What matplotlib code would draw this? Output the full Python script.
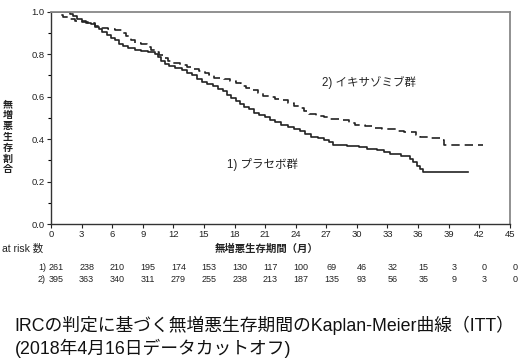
import matplotlib
matplotlib.use("Agg")
import matplotlib.pyplot as plt
from matplotlib.ticker import MultipleLocator

plt.rcParams['font.family'] = ['Liberation Sans', 'Noto Sans CJK JP', 'DejaVu Sans']

# placebo arm (solid)
t_placebo = [0, 1.9, 2.2, 2.6, 3.0, 3.4, 3.9, 4.3, 4.7, 5.0, 5.5, 5.9, 6.3, 6.7, 7.1,
             7.6, 8.2, 8.8, 9.5, 10.2, 10.5, 10.8, 11.2, 11.6, 12.2, 12.8, 13.3, 13.8,
             14.3, 14.8, 15.3, 15.9, 16.4, 16.9, 17.3, 17.7, 18.1, 18.5, 18.9, 19.4,
             19.9, 20.4, 21.0, 21.5, 22.0, 22.6, 23.2, 23.8, 24.4, 24.9, 25.5, 26.2,
             26.8, 27.3, 27.7, 29.0, 30.2, 31.0, 32.0, 32.7, 33.2, 34.3, 35.2, 35.5,
             35.9, 36.2, 36.5, 40.9]
s_placebo = [1.0, 0.99, 0.98, 0.965, 0.955, 0.945, 0.94, 0.93, 0.92, 0.905, 0.89,
             0.875, 0.865, 0.85, 0.84, 0.83, 0.82, 0.815, 0.81, 0.80, 0.785, 0.77,
             0.755, 0.745, 0.735, 0.725, 0.71, 0.70, 0.685, 0.67, 0.66, 0.65, 0.635,
             0.625, 0.61, 0.595, 0.58, 0.565, 0.55, 0.54, 0.525, 0.515, 0.505, 0.49,
             0.48, 0.468, 0.458, 0.448, 0.44, 0.425, 0.41, 0.405, 0.395, 0.385, 0.372,
             0.368, 0.362, 0.355, 0.348, 0.338, 0.33, 0.32, 0.305, 0.29, 0.275, 0.26,
             0.246, 0.246]

# ixazomib arm (dashed)
t_ixa = [0, 0.9, 1.2, 1.9, 2.4, 3.0, 3.6, 4.3, 5.0, 5.6, 6.3, 7.0, 7.4, 7.8, 8.2,
         8.8, 9.4, 9.8, 10.2, 10.6, 11.0, 11.5, 12.0, 12.7, 13.3, 13.9, 14.5, 15.1,
         15.5, 16.0, 17.0, 17.6, 18.1, 18.6, 19.1, 19.7, 20.3, 20.8, 21.4, 22.0,
         22.6, 23.2, 23.8, 24.3, 24.8, 25.3, 26.0, 26.8, 27.4, 28.5, 29.2, 29.8,
         30.8, 31.5, 32.5, 33.8, 34.6, 35.8, 36.2, 37.0, 38.3, 38.5, 42.4]
s_ixa = [1.0, 0.985, 0.975, 0.965, 0.958, 0.95, 0.945, 0.935, 0.925, 0.918, 0.912,
         0.898, 0.885, 0.868, 0.855, 0.848, 0.835, 0.82, 0.81, 0.795, 0.782, 0.77,
         0.758, 0.75, 0.74, 0.73, 0.72, 0.712, 0.70, 0.688, 0.684, 0.675, 0.665,
         0.652, 0.642, 0.63, 0.618, 0.605, 0.598, 0.59, 0.582, 0.57, 0.558, 0.545,
         0.53, 0.518, 0.51, 0.502, 0.495, 0.49, 0.478, 0.468, 0.462, 0.452, 0.448,
         0.438, 0.432, 0.42, 0.408, 0.405, 0.398, 0.372, 0.372]

risk_times = list(range(0, 46, 3))
risk_placebo = [261, 238, 210, 195, 174, 153, 130, 117, 100, 69, 46, 32, 15, 3, 0, 0]
risk_ixa = [395, 363, 340, 311, 279, 255, 238, 213, 187, 135, 93, 56, 35, 9, 3, 0]

fig = plt.figure(figsize=(5.24, 3.61), dpi=100)
ax = fig.add_axes([0.0973, 0.3795, 0.8757, 0.588])

ax.step(t_placebo, s_placebo, where="post", color="#222222", lw=1.2)
ax.step(t_ixa, s_ixa, where="post", color="#222222", lw=1.2, dashes=(5, 3))

ax.set_xlim(0, 45)
ax.set_ylim(0, 1.0)
ax.xaxis.set_major_locator(MultipleLocator(3))
ax.yaxis.set_major_locator(MultipleLocator(0.2))
ax.yaxis.set_minor_locator(MultipleLocator(0.1))
ax.set_yticklabels(["%.1f" % v for v in ax.get_yticks()])
ax.tick_params(labelsize=6.8, length=3, width=0.8, pad=1.5, colors="#222222")
ax.tick_params(which="minor", length=2, width=0.8)
for side in ["top", "right"]:
    ax.spines[side].set_color("#888888")
    ax.spines[side].set_linewidth(1.3)
for side in ["left", "bottom"]:
    ax.spines[side].set_color("#333333")
    ax.spines[side].set_linewidth(1.0)

ax.text(26.6, 0.668, "2) イキサゾミブ群", fontsize=8.3, color="#222222", va="center")
ax.text(17.25, 0.278, "1) プラセボ群", fontsize=8.3, color="#222222", va="center")

fig.text(8 / 524, 1 - 137 / 361, "\n".join("無増悪生存割合"), fontsize=7.2, ha="center",
         va="center", linespacing=1.1, color="#222222", fontweight="bold")

fig.text(267 / 524, 1 - 249 / 361, "無増悪生存期間（月）", fontsize=7.5, ha="center",
         va="center", color="#222222", fontweight="bold")
fig.text(2 / 524, 1 - 249 / 361, "at risk 数", fontsize=7.5, ha="left",
         va="center", color="#222222")

for row_y, label, counts in [(267, "1)", risk_placebo), (280, "2)", risk_ixa)]:
    fy = 1 - row_y / 361
    fig.text(46 / 524, fy, label, fontsize=6.5, ha="right", va="center", color="#222222")
    for t, n in zip(risk_times, counts):
        fx = (51 + 10.2 * t + 5) / 524
        fig.text(fx, fy, str(n), fontsize=6.5, ha="center", va="center", color="#222222")

fig.text(14 / 524, 1 - 325 / 361, "IRCの判定に基づく無増悪生存期間のKaplan-Meier曲線（ITT）",
         fontsize=12.8, ha="left", va="center", color="#111111")
fig.text(15 / 524, 1 - 348 / 361, "(2018年4月16日データカットオフ)",
         fontsize=12.8, ha="left", va="center", color="#111111")

fig.savefig("out.png", dpi=100)
